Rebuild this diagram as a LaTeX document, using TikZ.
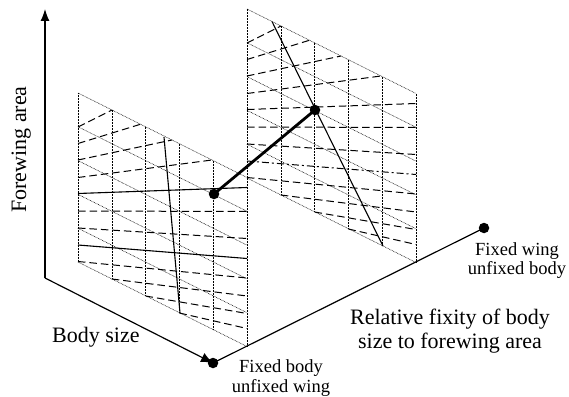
\documentclass[tikz,border=0pt]{standalone}
\usepackage{fontspec}
\setmainfont{Liberation Serif}
\usetikzlibrary{arrows.meta}
\tikzset{
  gridln/.style={line width=0.55pt, dash pattern=on 0.7pt off 0.8pt, black},
  dashln/.style={line width=1pt, dash pattern=on 7.5pt off 4pt},
  dashdotln/.style={line width=1pt, dash pattern=on 7pt off 3pt on 2pt off 3pt},
  solidln/.style={line width=1.1pt},
  axisln/.style={line width=1.2pt},
  linkln/.style={line width=2.8pt},
  dotnode/.style={circle, fill=black, inner sep=0pt, minimum size=10.5pt},
  biglbl/.style={font=\fontsize{22}{24}\selectfont, inner sep=0pt},
  smalllbl/.style={font=\fontsize{18.5}{20}\selectfont, inner sep=0pt, anchor=base},
}
\newcommand\mypanel[2]{%
  \foreach \i in {0,...,5}{%
    \pgfmathsetmacro\u{\i*33.8}%
    \draw[gridln] (\u,\u/2) -- (\u,169+\u/2);
    \draw[gridln] (0,\u) -- (169,\u+84.5);
  }
  \draw[dashln] (0,34) -- (34,17);
  \draw[dashln] (0,50.5) -- (62.5,31.25);
  \draw[dashln] (0,67) -- (94,47);
  \draw[dashln] (0,84.5) -- (134,67);
  \draw[#1] (0,100.5) -- (169,94.5);
  \draw[dashln] (0,118) -- (169,118.5);
  \draw[dashln] (0,135) -- (169,145.5);
  \draw[#2] (0,152) -- (169,165.5);
  \draw[dashln] (0,168.5) -- (169,185);
  \draw[dashln] (33.8,186) -- (169,203);
  \draw[dashln] (67.6,203) -- (169,220.5);
  \draw[dashln] (101.4,220) -- (169,235.5);
}
\begin{document}
\begin{tikzpicture}[x=1pt,y=-1pt]
\useasboundingbox (0,0) rectangle (569,396);
% panels
\begin{scope}[shift={(78,93)}]
  \mypanel{solidln}{solidln}
  \draw[solidln] (86,44) -- (102,220);
\end{scope}
\begin{scope}[shift={(247,9)}]
  \mypanel{dashln}{dashdotln}
  \draw[solidln] (25,12.5) -- (136,237);
\end{scope}
% axes
\coordinate (O) at (45,278);
\coordinate (Ztop) at (45,9);
\coordinate (Bc) at (213,363);
\coordinate (Fc) at (484,228);
\coordinate (Lc) at (214,194);
\coordinate (Rc) at (315,110);
\draw[axisln,-{Latex[length=12pt,width=9pt]}] (O) -- (Ztop);
\draw[axisln,-{Latex[length=12pt,width=10pt]}] (O) -- (Bc);
\draw[axisln] (Bc) -- (Fc);
\draw[linkln] (Lc) -- (Rc);
\node[dotnode] (B) at (Bc) {};
\node[dotnode] (F) at (Fc) {};
\node[dotnode] (L) at (Lc) {};
\node[dotnode] (R) at (Rc) {};
% labels
\node[biglbl, rotate=90, anchor=base west] (zl) at (26,213) {Forewing area};
\node[biglbl, anchor=base west] (bl) at (52,342) {Body size};
\node[biglbl, align=center] (rl) at (450,331) {Relative fixity of body\\size to forewing area};
\node[smalllbl] (fw1) at (517,255) {Fixed wing};
\node[smalllbl] (fw2) at (517,274) {unfixed body};
\node[smalllbl] (fb1) at (281,372) {Fixed body};
\node[smalllbl] (fb2) at (281,392) {unfixed wing};
\end{tikzpicture}
\end{document}
